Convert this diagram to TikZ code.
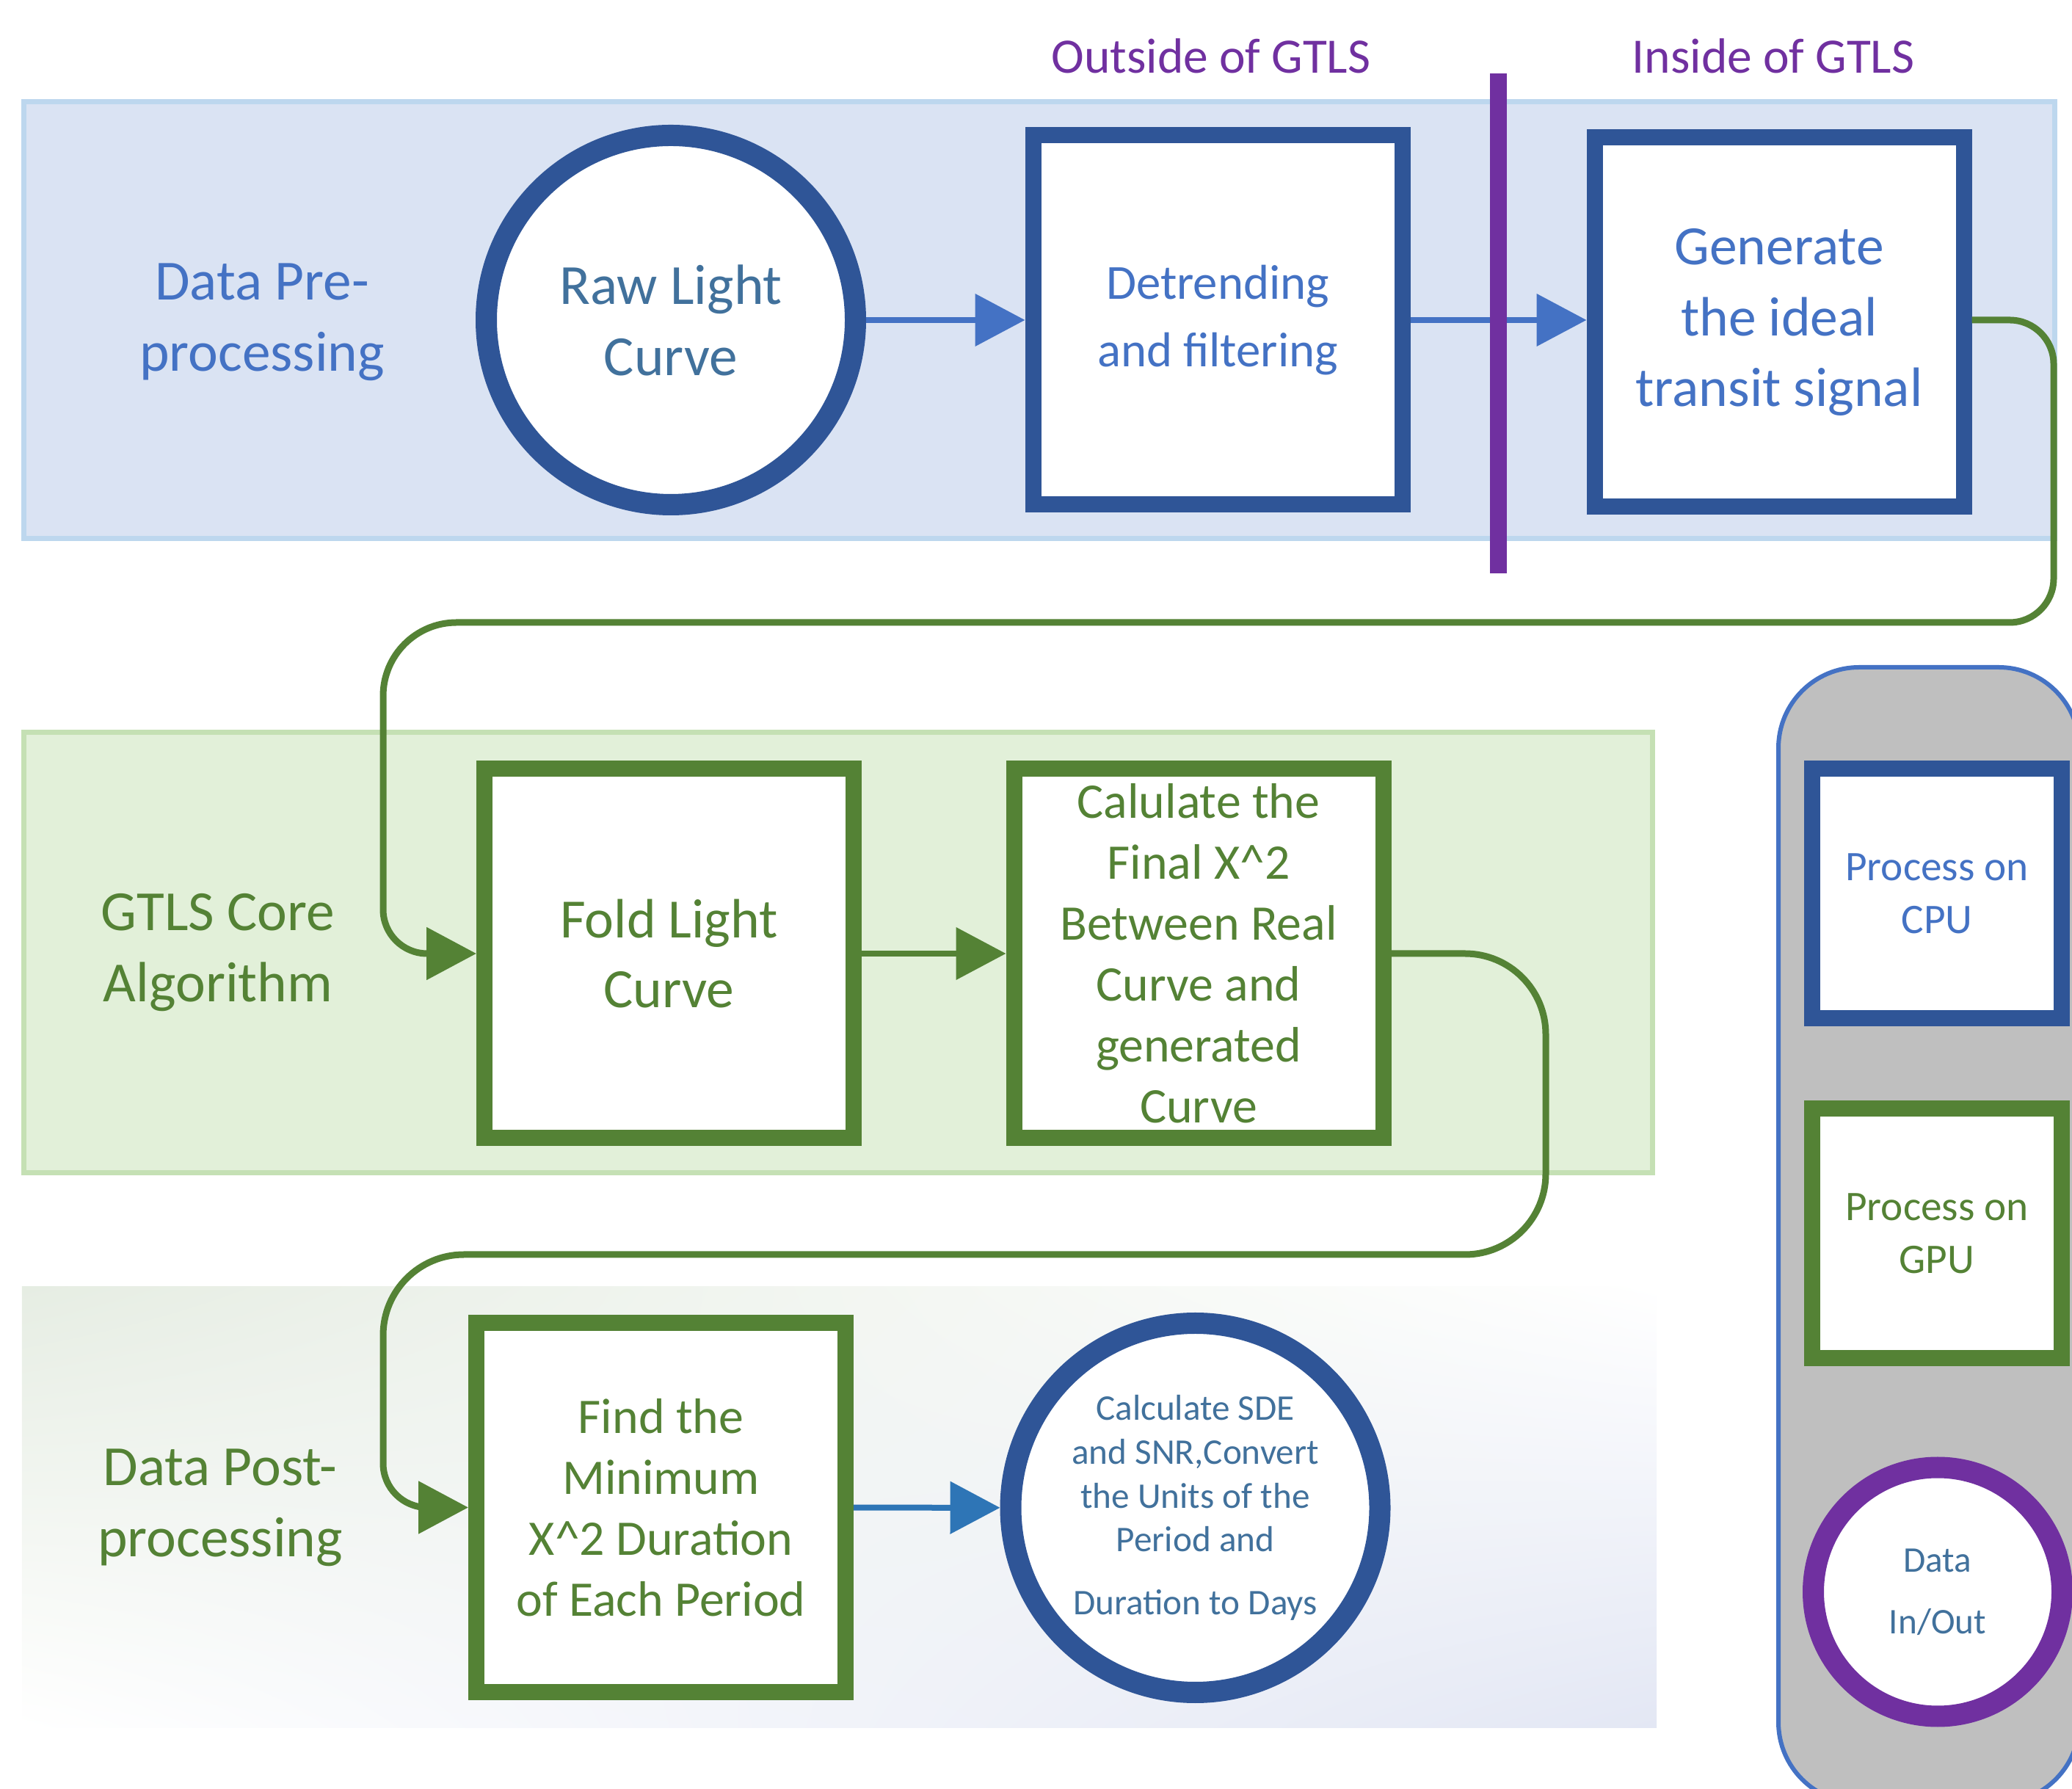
\documentclass[tikz,border=0pt]{standalone}
\usepackage{fontspec}
\setmainfont{Carlito}
\usetikzlibrary{shapes,arrows.meta,positioning,calc,shadings}

\definecolor{preFill}{HTML}{DAE3F3}
\definecolor{preLine}{HTML}{BDD7EE}
\definecolor{coreFill}{HTML}{E2F0D9}
\definecolor{coreLine}{HTML}{C5E0B4}
\definecolor{postTL}{HTML}{E6EDE3}
\definecolor{postBR}{HTML}{E3E7F4}
\definecolor{cpuBlue}{HTML}{2F5597}
\definecolor{arrBlue}{HTML}{4472C4}
\definecolor{arrBlueB}{HTML}{2E75B6}
\definecolor{txtSteel}{HTML}{41719C}
\definecolor{gpuGreen}{HTML}{548235}
\definecolor{gtlsPurple}{HTML}{7030A0}
\definecolor{legendGray}{HTML}{BFBFBF}

\newcommand{\fsz}[2]{\fontsize{#1}{#2}\selectfont}

\begin{document}
\begin{tikzpicture}[
    band/.style={rectangle, inner sep=0pt, line width=0.07cm},
    cpubox/.style={rectangle, draw=cpuBlue, fill=white, line width=0.22cm, minimum width=5.03cm, minimum height=5.03cm, inner sep=0pt, align=center, text=arrBlue},
    gpubox/.style={cpubox, draw=gpuGreen, text=gpuGreen},
    iocirc/.style={circle, draw=cpuBlue, fill=white, line width=0.29cm, minimum size=5.03cm, inner sep=0pt, align=center, text=txtSteel},
    legendbox/.style={rectangle, draw=arrBlue, fill=legendGray, line width=0.06cm, rounded corners=1.1cm, minimum width=4.1cm, minimum height=15.47cm},
    stagelbl/.style={align=center, font=\fsz{22}{27.6}},
    sidelbl/.style={text=gtlsPurple, font=\fsz{19.2}{23}},
    flow/.style={-{Triangle[length=0.68cm,width=0.7cm]}, line width=0.08cm, draw=arrBlue},
    gflow/.style={flow, draw=gpuGreen, line width=0.09cm},
]

\useasboundingbox (0,0) rectangle (28.23,24.36);
\clip (0,0) rectangle (28.23,24.36);

% Bands
\node[band, fill=preFill, draw=preLine, minimum width=27.67cm, minimum height=5.95cm] (preband) at (14.16,20.0) {};
\node[band, fill=coreFill, draw=coreLine, minimum width=22.19cm, minimum height=6.0cm] (coreband) at (11.42,11.385) {};
\node[band, upper left=postTL, upper right=white, lower left=white, lower right=postBR, minimum width=22.27cm, minimum height=6.0cm] (postband) at (11.435,3.83) {};

\node[stagelbl, text=arrBlue] (prelbl) at (3.57,19.97) {Data Pre-\\processing};
\node[stagelbl, text=gpuGreen] (corelbl) at (2.97,11.38) {GTLS Core\\Algorithm};
\node[stagelbl, text=gpuGreen] (postlbl) at (3.0,3.82) {Data Post-\\processing};

% Legend
\node[legendbox] (legend) at (26.28,7.535) {};
\node[cpubox, minimum width=3.4cm, minimum height=3.4cm, font=\fsz{16.3}{20.5}] (cpukey) at (26.39,12.19) {Process on\\CPU};
\node[gpubox, minimum width=3.4cm, minimum height=3.4cm, font=\fsz{16.3}{20.5}] (gpukey) at (26.39,7.56) {Process on\\GPU};
\node[iocirc, draw=gtlsPurple, minimum size=3.39cm, font=\fsz{14}{24}] (iokey) at (26.40,2.675) {Data\\In/Out};

% Outside / inside
\node[sidelbl] (outlbl) at (16.50,23.60) {Outside of GTLS};
\node[sidelbl] (inlbl) at (24.16,23.60) {Inside of GTLS};

% Pre-processing
\node[iocirc, font=\fsz{22}{27.6}] (raw) at (9.14,20.0) {Raw Light\\Curve};
\node[cpubox, font=\fsz{19}{26.4}] (detr) at (16.59,20.0) {Detrending\\and filtering};
\node[cpubox, font=\fsz{21.5}{27.4}] (gen) at (24.24,19.97) {Generate\\the ideal\\transit signal};

% Core algorithm
\node[gpubox, font=\fsz{21.5}{26.8}] (fold) at (9.115,11.37) {Fold Light\\Curve};
\node[gpubox, font=\fsz{19.3}{23.6}] (calc) at (16.33,11.37) {Calulate the\\Final X\textasciicircum{}2\\Between Real\\Curve and\\generated\\Curve};

% Post-processing
\node[gpubox, font=\fsz{19.3}{23.6}] (find) at (9.005,3.825) {Find the\\Minimum\\X\textasciicircum{}2 Duration\\of Each Period};
\node[iocirc, font=\fsz{14}{17}] (sde) at (16.285,3.82) {Calculate SDE\\and SNR,Convert\\the Units of the\\Period and\\[0.26cm]Duration to Days};

% Arrows
\draw[flow] (raw) -- (detr);
\draw[flow] (detr) -- (gen.west |- detr);
\draw[flow, draw=gpuGreen] (fold) -- (calc);
\draw[flow, draw=arrBlueB] (find) -- (sde);

% Loops between rows
\coordinate (bendA) at (27.98,15.88);
\coordinate (bendB) at (5.22,15.88);
\coordinate (bendC) at (21.06,7.27);
\coordinate (bendD) at (5.22,7.27);
\draw[gflow, rounded corners=0.6cm] (gen.east |- detr) -| (bendA) [rounded corners=1.0cm] -- (bendB) [rounded corners=0.6cm] |- (fold.west);
\draw[gflow, rounded corners=1.1cm] (calc.east) -| (bendC) -- (bendD) [rounded corners=0.6cm] |- (find.west);

% Divider
\coordinate (divtop) at (20.41,23.36);
\coordinate (divbot) at (20.41,16.55);
\draw[gtlsPurple, line width=0.23cm] (divtop) -- (divbot);

\end{tikzpicture}
\end{document}
